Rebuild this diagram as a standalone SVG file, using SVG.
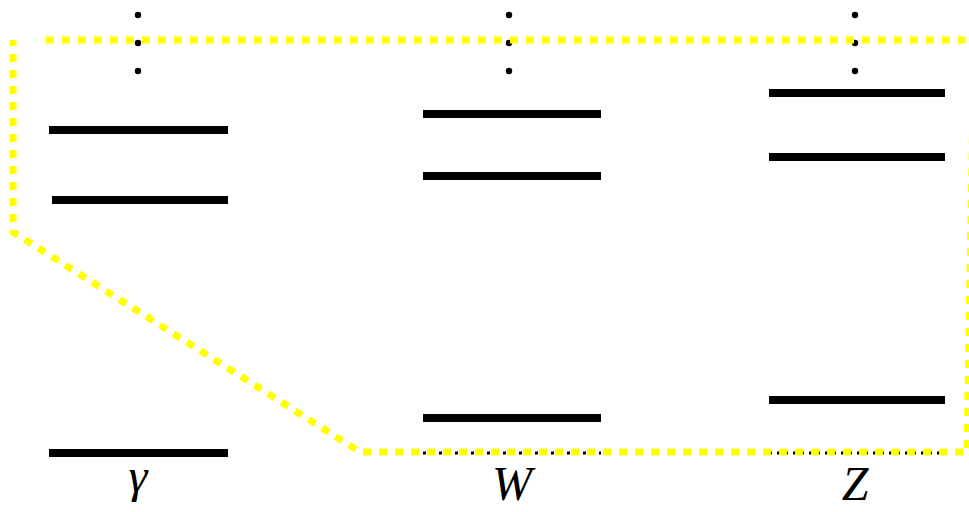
<svg xmlns="http://www.w3.org/2000/svg" width="969" height="512" viewBox="0 0 969 512">
<style>
.lvl{stroke:#000;stroke-width:8;fill:none}
.gnd{stroke:#000;stroke-width:3;stroke-dasharray:3 5;fill:none}
.dot{fill:#000}
.lbl{font-family:"Liberation Serif","DejaVu Serif",serif;font-style:italic;font-size:48px;fill:#000;text-anchor:middle}
.sel{stroke:#ffff00;stroke-width:7;stroke-dasharray:8 8;fill:none}
</style>
<rect width="969" height="512" fill="#fff"/>
<g id="gamma">
<circle class="dot" cx="138" cy="15" r="3.2"/>
<circle class="dot" cx="138" cy="43" r="3.2"/>
<circle class="dot" cx="138" cy="71" r="3.2"/>
<line class="lvl" x1="49" y1="130" x2="228" y2="130"/>
<line class="lvl" x1="52" y1="200" x2="228" y2="200"/>
<line class="lvl" x1="49" y1="453" x2="228" y2="453"/>
<text class="lbl" x="138" y="492">γ</text>
</g>
<g id="W">
<circle class="dot" cx="509" cy="15" r="3.2"/>
<circle class="dot" cx="509" cy="43" r="3.2"/>
<circle class="dot" cx="509" cy="71" r="3.2"/>
<line class="lvl" x1="423" y1="114" x2="601" y2="114"/>
<line class="lvl" x1="423" y1="176" x2="601" y2="176"/>
<line class="lvl" x1="423" y1="418" x2="601" y2="418"/>
<line class="gnd" x1="423" y1="453" x2="601" y2="453"/>
<text class="lbl" x="512" y="500">W</text>
</g>
<g id="Z">
<circle class="dot" cx="855" cy="15" r="3.2"/>
<circle class="dot" cx="855" cy="43" r="3.2"/>
<circle class="dot" cx="855" cy="71" r="3.2"/>
<line class="lvl" x1="769" y1="93" x2="945" y2="93"/>
<line class="lvl" x1="769" y1="157" x2="945" y2="157"/>
<line class="lvl" x1="769" y1="400" x2="945" y2="400"/>
<line class="gnd" x1="769" y1="453" x2="945" y2="453"/>
<text class="lbl" x="855" y="500">Z</text>
</g>
<g id="connectors">
<path class="sel" d="M46,40 L974,40 L967,452 L360,452 L13,232 L13,40"/>
</g>
</svg>
